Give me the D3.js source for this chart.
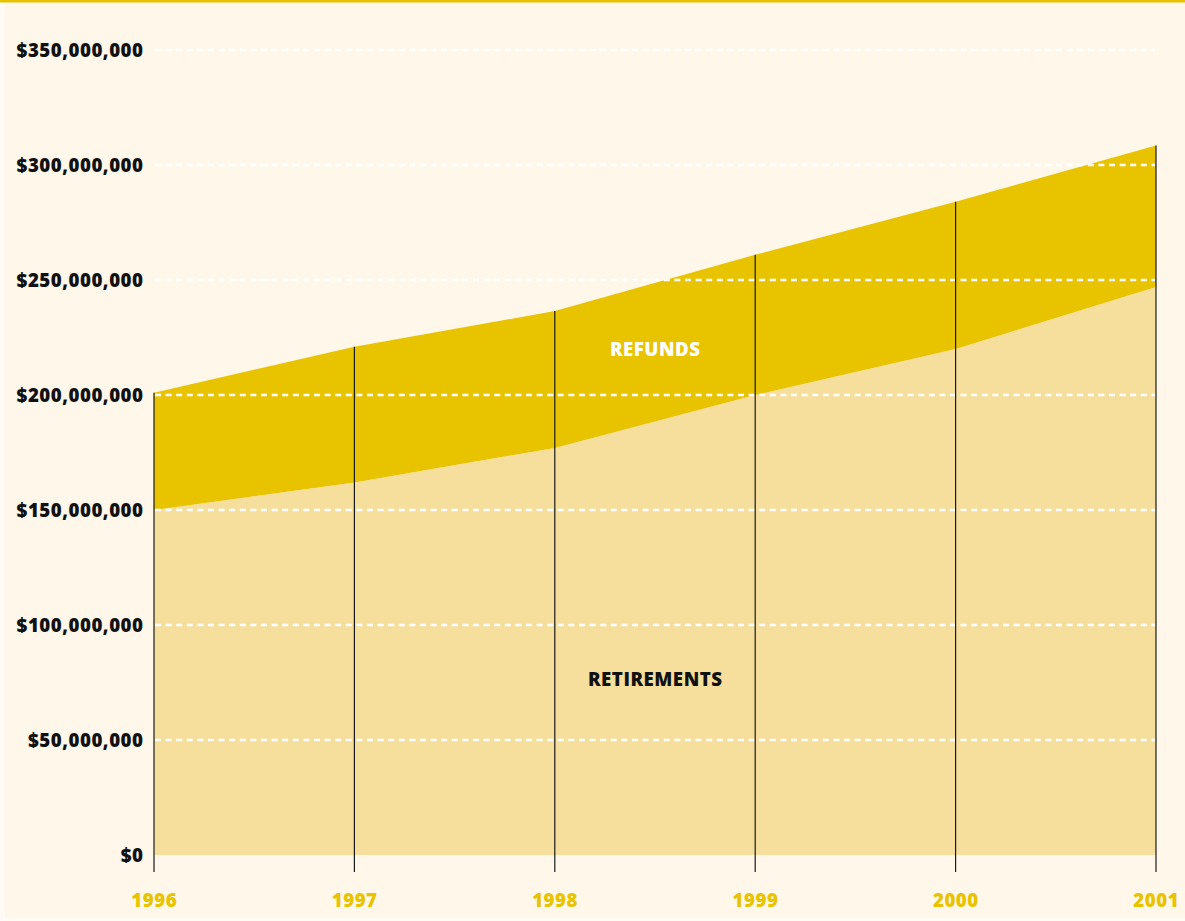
<!DOCTYPE html>
<html>
<head>
<meta charset="utf-8">
<script src="https://cdn.jsdelivr.net/npm/d3@7"></script>
<style>
  html, body { margin: 0; padding: 0; background: #fffaf3; }
  svg { display: block; }
  text { font-family: "Open Sans", "Noto Sans", sans-serif; font-weight: 800; letter-spacing: 0.5px; }
</style>
</head>
<body>
<svg id="chart" width="1185" height="921"></svg>
<script>
// Annual amounts in dollars
const years = [1996, 1997, 1998, 1999, 2000, 2001];
const retirements = [150000000, 162000000, 177000000, 200000000, 220000000, 247000000];
const refunds = [51000000, 59000000, 59500000, 61000000, 64000000, 61500000];
const yTicks = [0, 50000000, 100000000, 150000000, 200000000, 250000000, 300000000, 350000000];

const W = 1185, H = 921;
const margin = { left: 154, right: 29, top: 50, bottom: 66 };
const FS = 18.7;

const svg = d3.select("#chart");

// panel background and top rule
svg.append("rect").attr("x", 5).attr("y", 0).attr("width", W - 5).attr("height", H - 3).attr("fill", "#fef7ea");
svg.append("rect").attr("x", 0).attr("y", 0).attr("width", W).attr("height", 2.5).attr("fill", "#e8c300");

const x = d3.scaleLinear().domain([1996, 2001]).range([margin.left, W - margin.right]);
const y = d3.scaleLinear().domain([0, 350000000]).range([H - margin.bottom, margin.top]);

const rows = years.map((yr, i) => ({ year: yr, retirements: retirements[i], refunds: refunds[i] }));
const stacked = d3.stack().keys(["retirements", "refunds"])(rows);
const fills = { retirements: "#f6df9c", refunds: "#e8c300" };

const area = d3.area()
  .x(d => x(d.data.year))
  .y0(d => y(d[0]))
  .y1(d => y(d[1]));

svg.append("g").selectAll("path")
  .data(stacked)
  .join("path")
  .attr("d", area)
  .attr("fill", d => fills[d.key]);

// dashed horizontal gridlines
svg.append("g").selectAll("line")
  .data(yTicks.filter(v => v > 0))
  .join("line")
  .attr("x1", x(1996) + 1)
  .attr("x2", x(2001) - 1)
  .attr("y1", d => y(d))
  .attr("y2", d => y(d))
  .attr("stroke", "#ffffff")
  .attr("stroke-width", 2.5)
  .attr("stroke-dasharray", "6,4.6");

// vertical year lines from the stack top down past the baseline
const totals = rows.map(r => r.retirements + r.refunds);
svg.append("g").selectAll("line")
  .data(years)
  .join("line")
  .attr("x1", d => x(d))
  .attr("x2", d => x(d))
  .attr("y1", (d, i) => y(totals[i]))
  .attr("y2", y(0) + 17)
  .attr("stroke", "#1a1a1a")
  .attr("stroke-width", 1.2);

// y axis labels
const fmt = d3.format("$,");
svg.append("g").selectAll("text")
  .data(yTicks)
  .join("text")
  .attr("x", 143.5)
  .attr("y", d => y(d))
  .attr("dy", "0.36em")
  .attr("text-anchor", "end")
  .attr("font-size", FS)
  .attr("fill", "#111")
  .text(d => fmt(d));

// x axis labels
svg.append("g").selectAll("text")
  .data(years)
  .join("text")
  .attr("x", d => x(d) + 0.25)
  .attr("y", 907)
  .attr("text-anchor", "middle")
  .attr("font-size", FS)
  .attr("fill", "#e8c300")
  .text(d => d);

// series labels
svg.append("text")
  .attr("x", 655.25).attr("y", 349).attr("dy", "0.36em")
  .attr("text-anchor", "middle").attr("font-size", FS)
  .attr("fill", "#ffffff")
  .text("REFUNDS");

svg.append("text")
  .attr("x", 655.25).attr("y", 679).attr("dy", "0.36em")
  .attr("text-anchor", "middle").attr("font-size", FS)
  .attr("fill", "#111")
  .text("RETIREMENTS");
</script>
</body>
</html>
